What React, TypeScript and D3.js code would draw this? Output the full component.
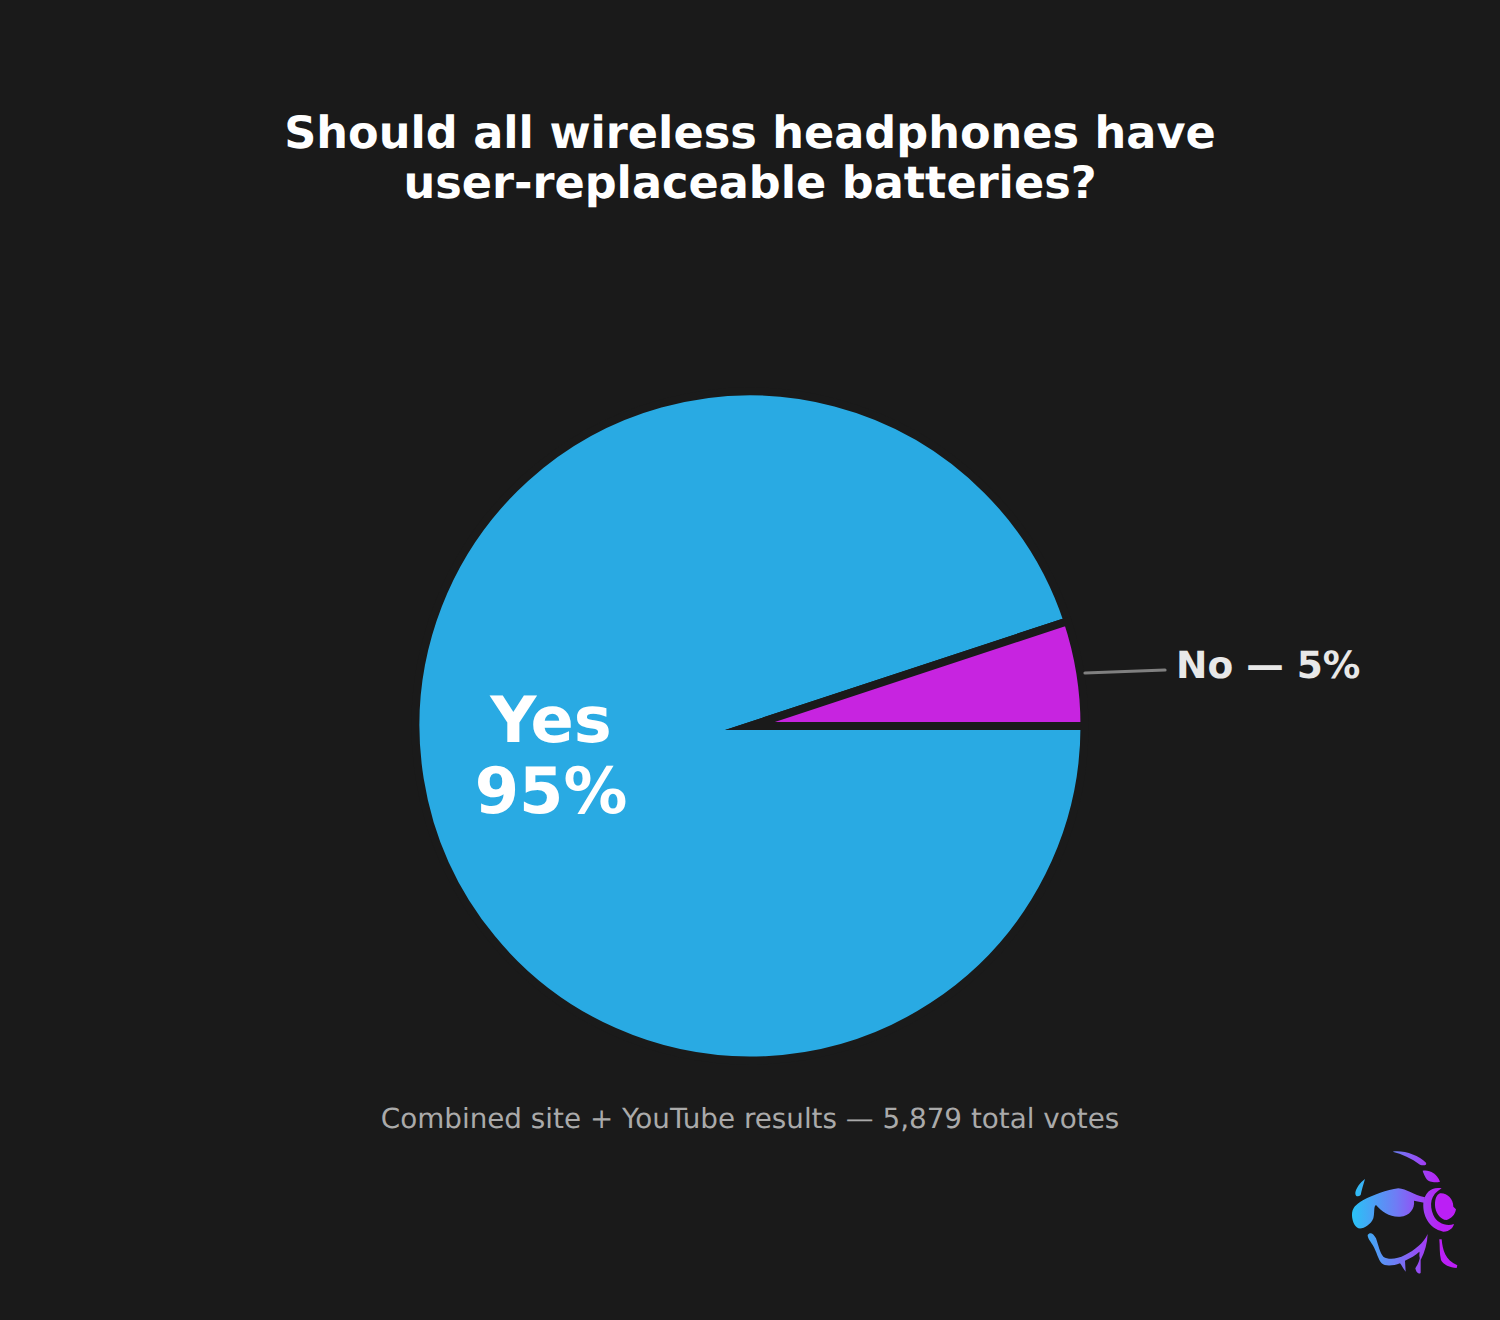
import React, { useEffect, useRef } from 'react';
import * as d3 from 'd3';

const categories = ['Yes', 'No'];
const shares = [94.93, 5.07];
const sliceColors = ['#29aae3', '#c724e0'];
const titleLines = ['Should all wireless headphones have', 'user-replaceable batteries?'];
const subtitle = 'Combined site + YouTube results — 5,879 total votes';

const WIDTH = 1500;
const HEIGHT = 1320;
const BG = '#1a1a1a';
const FONT = '"DejaVu Sans", sans-serif';

// logo outlines, traced in a 3x crop of the corner
const logoPaths = [
  'M188,35 C220,30 265,45 288,68 C292,76 280,78 270,74 C245,55 215,42 188,35Z',
  'M278,92 C295,88 320,98 330,125 C315,130 295,125 290,118 C285,110 280,100 278,92Z',
  'M105,117 C100,135 95,150 92,165 C85,172 75,170 76,158 C78,145 90,128 105,117Z',
  'M66,225 C66,205 75,195 100,180 C130,165 170,150 205,145 C230,147 250,165 285,172 L282,188 L252,182 C255,205 240,228 210,230 C180,232 155,215 138,195 C130,200 135,215 130,235 C122,255 100,268 85,265 C72,258 66,240 66,225Z',
  'M335,145 C305,140 285,155 280,190 C278,225 295,265 340,275 C360,275 370,262 372,252 C350,260 320,250 310,225 C298,195 300,165 335,145Z',
  'M330,160 C350,158 370,175 370,200 L378,208 C375,225 365,235 350,240 C330,240 315,215 315,195 C315,175 320,165 330,160Z',
  'M113,285 C120,275 130,280 138,295 C145,315 150,340 160,350 C175,360 200,358 225,345 C255,330 280,310 293,282 C292,310 285,335 272,360 C265,345 270,340 268,335 C258,345 240,355 225,362 L227,395 C218,385 215,375 210,370 C190,378 165,380 155,370 C145,360 140,335 128,315 C120,302 113,295 113,285Z',
  'M272,338 C270,360 265,370 256,385 C258,398 268,405 272,398 C272,375 272,360 272,338Z',
  'M328,298 L335,298 C338,330 345,360 382,376 L380,384 C360,382 340,375 333,360 C328,340 330,318 328,298Z',
];

const App: React.FC = () => {
  const svgRef = useRef<SVGSVGElement | null>(null);

  useEffect(() => {
    const svg = d3.select(svgRef.current);
    svg.selectAll('*').remove();

    svg.attr('text-rendering', 'geometricPrecision');
    svg.append('rect').attr('width', WIDTH).attr('height', HEIGHT).attr('fill', BG);

    svg
      .append('text')
      .attr('text-anchor', 'middle')
      .attr('font-family', FONT)
      .attr('font-weight', 700)
      .attr('font-size', 44.6)
      .attr('fill', '#ffffff')
      .selectAll('tspan')
      .data(titleLines)
      .enter()
      .append('tspan')
      .attr('x', WIDTH / 2)
      .attr('y', (_, i) => 148 + i * 50)
      .text(d => d);

    // Pie starts at 3 o'clock, so the small slice sits just above the horizontal
    const cx = 750;
    const cy = 726;
    const radius = 330.5;
    const edge = 8;
    const pct = d3.format('.0f');

    const pie = d3
      .pie<number>()
      .value(d => d)
      .sort(null)
      .startAngle(Math.PI / 2)
      .endAngle(Math.PI / 2 + 2 * Math.PI);

    const arc = d3
      .arc<d3.PieArcDatum<number>>()
      .innerRadius(0)
      .outerRadius(radius + edge / 2);

    const g = svg.append('g').attr('transform', `translate(${cx}, ${cy})`);

    g.selectAll('path')
      .data(pie(shares))
      .enter()
      .append('path')
      .attr('d', arc)
      .attr('fill', (_, i) => sliceColors[i])
      .attr('stroke', BG)
      .attr('stroke-width', edge)
      .attr('stroke-linejoin', 'miter')
      .attr('stroke-miterlimit', 20);

    // Labels
    const yesLabel = svg
      .append('text')
      .attr('text-anchor', 'middle')
      .attr('font-family', FONT)
      .attr('font-weight', 700)
      .attr('font-size', 63.8)
      .attr('fill', '#ffffff');
    [categories[0], `${pct(shares[0])}%`].forEach((line, i) => {
      yesLabel
        .append('tspan')
        .attr('x', 551)
        .attr('y', 742 + i * 71)
        .text(line);
    });

    svg
      .append('line')
      .attr('x1', 1085)
      .attr('y1', 673)
      .attr('x2', 1165)
      .attr('y2', 670)
      .attr('stroke', '#808080')
      .attr('stroke-width', 3.2)
      .attr('stroke-linecap', 'round');

    svg
      .append('text')
      .attr('x', 1176)
      .attr('y', 677.5)
      .attr('font-family', FONT)
      .attr('font-weight', 700)
      .attr('font-size', 37.5)
      .attr('fill', '#e8e8e8')
      .text(`${categories[1]} — ${pct(shares[1])}%`);

    svg
      .append('text')
      .attr('x', WIDTH / 2)
      .attr('y', 1127.5)
      .attr('text-anchor', 'middle')
      .attr('font-family', FONT)
      .attr('font-size', 27.8)
      .attr('fill', '#aaaaaa')
      .text(subtitle);

    // Logo in the bottom right corner
    const grad = svg
      .append('defs')
      .append('linearGradient')
      .attr('id', 'logoGrad')
      .attr('gradientUnits', 'userSpaceOnUse')
      .attr('x1', 66)
      .attr('y1', 0)
      .attr('x2', 330)
      .attr('y2', 0);
    grad.append('stop').attr('offset', '0%').attr('stop-color', '#29c3f6');
    grad.append('stop').attr('offset', '50%').attr('stop-color', '#6f7cf5');
    grad.append('stop').attr('offset', '100%').attr('stop-color', '#bb1ff5');

    svg
      .append('g')
      .attr('transform', 'translate(1330, 1140) scale(0.3333)')
      .selectAll('path')
      .data(logoPaths)
      .enter()
      .append('path')
      .attr('d', d => d)
      .attr('fill', 'url(#logoGrad)');
  }, []);

  return (
    <svg
      ref={svgRef}
      width={WIDTH}
      height={HEIGHT}
      style={{ position: 'absolute', left: 0, top: 0, display: 'block' }}
    ></svg>
  );
};

export default App;
